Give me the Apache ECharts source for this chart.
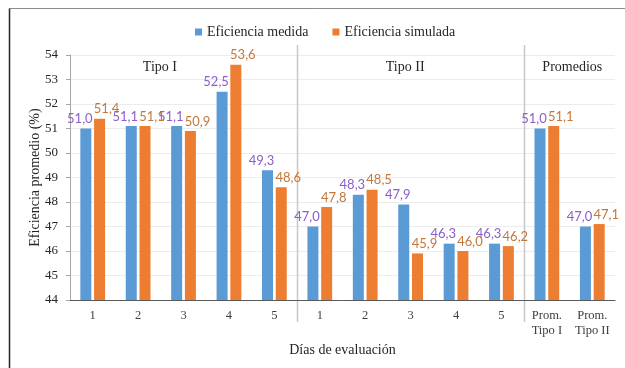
<!DOCTYPE html>
<html>
<head>
<meta charset="utf-8">
<script src="https://cdn.jsdelivr.net/npm/echarts@6/dist/echarts.min.js"></script>
<style>
  html, body { margin: 0; padding: 0; background: #fff; }
  #chart { width: 625px; height: 368px; }
</style>
</head>
<body>
<div id="chart"></div>
<script>
// Evaluation days grouped as Tipo I (1-5), Tipo II (1-5) and the two averages
const categories = ['1', '2', '3', '4', '5', '1', '2', '3', '4', '5', 'Prom.\nTipo I', 'Prom.\nTipo II'];
const medida   = [51.0, 51.1, 51.1, 52.5, 49.3, 47.0, 48.3, 47.9, 46.3, 46.3, 51.0, 47.0];
const simulada = [51.4, 51.1, 50.9, 53.6, 48.6, 47.8, 48.5, 45.9, 46.0, 46.2, 51.1, 47.1];
const groups = [
  { name: 'Tipo I',    at: 1.48,  first: 0 },
  { name: 'Tipo II',   at: 6.88,  first: 5 },
  { name: 'Promedios', at: 10.56, first: 10 }
];
const yMin = 44, yMax = 54;

const serif = '"Liberation Serif", "Times New Roman", serif';
const labelFont = 'Lato, "Open Sans", sans-serif';
const fmt = p => p.value.toFixed(1).replace('.', ',');

const chart = echarts.init(document.getElementById('chart'), null, { renderer: 'canvas' });

chart.setOption({
  animation: false,
  backgroundColor: '#ffffff',
  legend: {
    top: 20,
    left: 190,
    icon: 'rect',
    itemWidth: 7,
    itemHeight: 7,
    itemGap: 24,
    textStyle: { fontFamily: serif, fontSize: 14, color: '#262626' },
    data: ['Eficiencia medida', 'Eficiencia simulada']
  },
  grid: { left: 70, right: 10, top: 55, bottom: 68 },
  xAxis: {
    type: 'category',
    data: categories,
    name: 'Días de evaluación',
    nameLocation: 'middle',
    nameGap: 43,
    nameMoveOverlap: false,
    nameTextStyle: { fontFamily: serif, fontSize: 14, color: '#262626' },
    axisLine: { lineStyle: { color: '#595959', width: 1 } },
    axisTick: { show: false },
    axisLabel: { fontFamily: serif, fontSize: 12.5, color: '#404040', margin: 8, lineHeight: 15, interval: 0 }
  },
  yAxis: {
    type: 'value',
    min: yMin,
    max: yMax,
    interval: 1,
    name: 'Eficiencia promedio (%)',
    nameLocation: 'middle',
    nameGap: 28,
    nameMoveOverlap: false,
    nameTextStyle: { fontFamily: serif, fontSize: 14, color: '#262626' },
    axisLine: { show: true, lineStyle: { color: '#a6a6a6' } },
    axisTick: { show: true, length: 4, lineStyle: { color: '#a6a6a6' } },
    axisLabel: { fontFamily: serif, fontSize: 13, color: '#262626', margin: 12 },
    splitLine: { lineStyle: { color: '#ececec' } }
  },
  series: [
    {
      name: 'Eficiencia medida',
      type: 'bar',
      data: medida,
      barWidth: 11,
      barGap: '25%',
      itemStyle: { color: '#5b9bd5' },
      label: {
        show: true, position: 'top', distance: 3, offset: [-6, 0],
        formatter: fmt, fontFamily: labelFont, fontSize: 13, color: '#8a5fc9'
      }
    },
    {
      name: 'Eficiencia simulada',
      type: 'bar',
      data: simulada,
      barWidth: 11,
      itemStyle: { color: '#ed7d31' },
      label: {
        show: true, position: 'top', distance: 3, offset: [7, 0],
        formatter: fmt, fontFamily: labelFont, fontSize: 13, color: '#c4783b'
      }
    }
  ]
});

// Group separators and group titles, placed through the axis scales
function drawGroups() {
  const px = i => chart.convertToPixel({ xAxisIndex: 0 }, i);
  const step = px(1) - px(0);
  const pxf = t => px(0) + t * step;           // fractional category position
  const py = v => chart.convertToPixel({ yAxisIndex: 0 }, v);
  const top = py(yMax), bottom = py(yMin);
  const elements = [
    // frame lines
    { type: 'line', shape: { x1: 9.5, y1: 8.5, x2: 625, y2: 8.5 }, style: { stroke: '#8c8c8c', lineWidth: 1 } },
    { type: 'line', shape: { x1: 9.5, y1: 8.5, x2: 9.5, y2: 368 }, style: { stroke: '#262626', lineWidth: 1.5 } }
  ];
  groups.forEach((g, k) => {
    if (k > 0) {
      const x = Math.round(pxf(g.first - 0.5)) + 0.5;
      elements.push({
        type: 'line',
        shape: { x1: x, y1: top - 10, x2: x, y2: bottom + 22 },
        style: { stroke: '#c8c8c8', lineWidth: 1.5 }
      });
    }
    elements.push({
      type: 'text',
      x: pxf(g.at),
      y: py(yMax - 0.5),
      style: {
        text: g.name, fontFamily: serif, fontSize: 14, fill: '#262626',
        align: 'center', verticalAlign: 'middle'
      }
    });
  });
  chart.setOption({ graphic: elements });
}
drawGroups();
</script>
</body>
</html>
